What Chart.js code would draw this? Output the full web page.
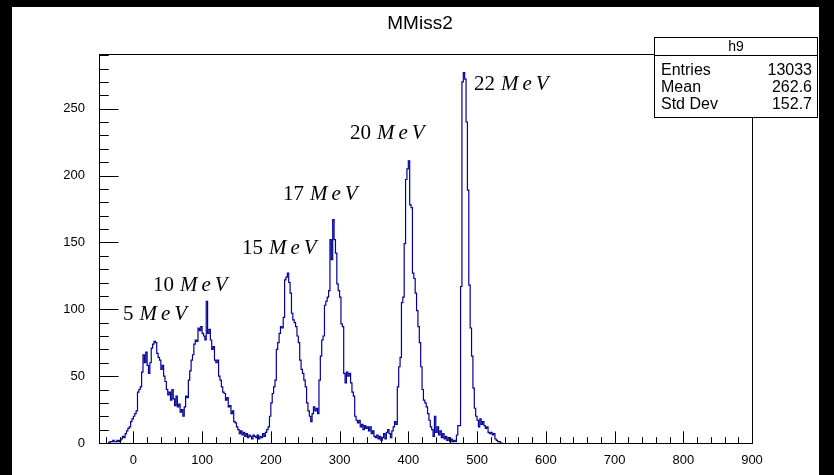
<!DOCTYPE html>
<html>
<head>
<meta charset="utf-8">
<script src="https://cdn.jsdelivr.net/npm/chart.js@4.4.1/dist/chart.umd.min.js"></script>
<style>
  html, body { margin: 0; padding: 0; background: #000; }
  #wrap { width: 834px; height: 475px; }
</style>
</head>
<body>
<div id="wrap"><canvas id="mychart" width="834" height="475"></canvas></div>
<script>
// histogram h9 : bins of width 2, first bin starts at -36
let binLow = -36;
let binWidth = 2;
let counts = [
  1, 0, 1, 1, 2, 1, 1, 2, 1, 2,
  3, 5, 4, 7, 9, 11, 12, 16, 18, 20,
  22, 24, 38, 40, 42, 53, 66, 60, 68, 58,
  52, 60, 71, 74, 76, 75, 67, 64, 62, 55,
  58, 50, 46, 40, 36, 38, 32, 40, 33, 28,
  35, 27, 29, 23, 25, 20, 27, 35, 34, 47,
  54, 62, 66, 74, 77, 76, 86, 84, 87, 82,
  80, 77, 106, 82, 85, 77, 70, 72, 62, 60,
  62, 50, 47, 42, 38, 37, 32, 34, 27, 28,
  22, 24, 16, 15, 12, 10, 7, 9, 6, 8,
  5, 7, 4, 6, 5, 3, 6, 5, 4, 6,
  3, 5, 4, 7, 5, 8, 10, 12, 20, 30,
  37, 42, 47, 70, 75, 82, 87, 86, 94, 122,
  124, 127, 120, 112, 97, 92, 90, 87, 80, 75,
  62, 55, 52, 47, 42, 30, 24, 20, 16, 22,
  27, 24, 26, 22, 47, 65, 77, 80, 103, 106,
  109, 114, 152, 137, 167, 152, 142, 119, 114, 109,
  89, 87, 52, 45, 53, 50, 52, 45, 38, 35,
  20, 17, 15, 17, 12, 14, 10, 13, 11, 12,
  9, 12, 7, 9, 5, 4, 6, 3, 5, 2,
  4, 7, 3, 8, 10, 7, 4, 9, 12, 16,
  14, 42, 57, 64, 105, 109, 149, 197, 205, 211,
  178, 176, 127, 123, 112, 99, 87, 75, 57, 40,
  32, 30, 27, 22, 17, 12, 10, 5, 20, 8,
  12, 6, 9, 4, 7, 3, 5, 2, 4, 1,
  3, 1, 2, 1, 6, 13, 13, 117, 270, 277,
  272, 240, 189, 118, 86, 65, 41, 26, 20, 17,
  12, 18, 14, 16, 13, 11, 12, 8, 7, 8,
  6, 7, 3, 2, 1, 1, 0
];
let xTicks = [0, 100, 200, 300, 400, 500, 600, 700, 800, 900];
let yTicks = [0, 50, 100, 150, 200, 250];
let peakEnergies = ["5", "10", "15", "17", "20", "22"];
let statNames = ["Entries", "Mean", "Std Dev"];
let statValues = ["13033", "262.6", "152.7"];

let xMin = -50, xMax = 900;
let yMax = Math.max(...counts) * 1.05;

// step points on bin edges
let points = counts.map((c, i) => ({ x: binLow + i * binWidth, y: c }));
points.push({ x: binLow + counts.length * binWidth, y: counts[counts.length - 1] });

// where the energy labels sit, in axis units
let labelSpots = [[-15, 92], [28.6, 113.7], [158, 141.4], [217.7, 181.8], [315.1, 227.4], [495.5, 264]];

let sans = "'Liberation Sans', Arial, Helvetica, sans-serif";
let serif = "'Liberation Serif', 'Times New Roman', serif";

let rootFrame = {
  id: "rootFrame",
  beforeDraw(chart) {
    let ctx = chart.ctx;
    ctx.save();
    ctx.fillStyle = "#000";
    ctx.fillRect(0, 0, 834, 475);
    ctx.fillStyle = "#fff";
    ctx.fillRect(12, 7, 807, 468);
    ctx.restore();
  },
  afterDraw(chart) {
    let ctx = chart.ctx;
    let a = chart.chartArea;
    let xs = chart.scales.x, ys = chart.scales.y;
    ctx.save();
    ctx.strokeStyle = "#000";
    ctx.lineWidth = 1;
    ctx.strokeRect(Math.round(a.left) + 0.5, Math.round(a.top) + 0.5, Math.round(a.right - a.left), Math.round(a.bottom - a.top));

    // ticks inside the frame, ROOT style
    let xLen = 0.03 * (a.bottom - a.top);
    let yLen = 0.03 * (a.right - a.left);
    ctx.beginPath();
    for (let v = -40; v <= 900; v += 20) {
      let px = Math.round(xs.getPixelForValue(v)) + 0.5;
      let len = v % 100 === 0 ? xLen : xLen / 2;
      ctx.moveTo(px, a.bottom);
      ctx.lineTo(px, a.bottom - len);
    }
    for (let v = 0; v <= 290; v += 10) {
      let py = Math.round(ys.getPixelForValue(v)) + 0.5;
      let len = v % 50 === 0 ? yLen : yLen / 2;
      ctx.moveTo(a.left, py);
      ctx.lineTo(a.left + len, py);
    }
    ctx.stroke();

    // title
    ctx.fillStyle = "#000";
    ctx.font = "19px " + sans;
    ctx.textAlign = "center";
    ctx.textBaseline = "alphabetic";
    ctx.fillText("MMiss2", 420, 29);

    // stats box
    ctx.fillStyle = "#fff";
    ctx.fillRect(654.5, 37.5, 163, 80);
    ctx.strokeRect(654.5, 37.5, 163, 80);
    ctx.beginPath();
    ctx.moveTo(654.5, 55.5);
    ctx.lineTo(817.5, 55.5);
    ctx.stroke();
    ctx.fillStyle = "#000";
    ctx.font = "14px " + sans;
    ctx.textAlign = "center";
    ctx.fillText("h9", 736, 51);
    ctx.font = "16px " + sans;
    statNames.forEach((n, i) => {
      let by = 75 + i * 17;
      ctx.textAlign = "left";
      ctx.fillText(n, 661, by);
      ctx.textAlign = "right";
      ctx.fillText(statValues[i], 812, by);
    });

    // peak labels: number upright, MeV in italics
    ctx.textAlign = "left";
    peakEnergies.forEach((e, i) => {
      let px = xs.getPixelForValue(labelSpots[i][0]);
      let py = ys.getPixelForValue(labelSpots[i][1]);
      ctx.font = "21px " + serif;
      ctx.fillText(e, px, py);
      let cx = px + ctx.measureText(e).width + 6;
      ctx.font = "italic 21px " + serif;
      for (let ch of "MeV") {
        ctx.fillText(ch, cx, py);
        cx += ctx.measureText(ch).width + 4;
      }
    });
    ctx.restore();
  }
};

let chart = new Chart(document.getElementById("mychart"), {
  type: "line",
  data: {
    datasets: [
      {
        label: "h9",
        data: points,
        stepped: "after",
        borderColor: "#000099",
        borderWidth: 1.2,
        pointRadius: 0,
        fill: false,
      },
    ],
  },
  options: {
    responsive: false,
    animation: false,
    layout: { padding: { left: 12, top: 54, right: 82, bottom: 0 } },
    plugins: { legend: { display: false }, tooltip: { enabled: false }, title: { display: false } },
    scales: {
      x: {
        type: "linear",
        min: xMin,
        max: xMax,
        afterBuildTicks: (s) => { s.ticks = xTicks.map((v) => ({ value: v })); },
        afterFit: (s) => { s.height = 32; },
        grid: { display: false },
        border: { display: false },
        ticks: { color: "#000", font: { family: sans, size: 13 }, padding: 2, maxRotation: 0, autoSkip: false },
      },
      y: {
        type: "linear",
        min: 0,
        max: yMax,
        afterBuildTicks: (s) => { s.ticks = yTicks.map((v) => ({ value: v })); },
        afterFit: (s) => { s.width = 87; },
        grid: { display: false },
        border: { display: false },
        ticks: { color: "#000", font: { family: sans, size: 13 }, padding: 6, autoSkip: false },
      },
    },
  },
  plugins: [rootFrame],
});
</script>
</body>
</html>
